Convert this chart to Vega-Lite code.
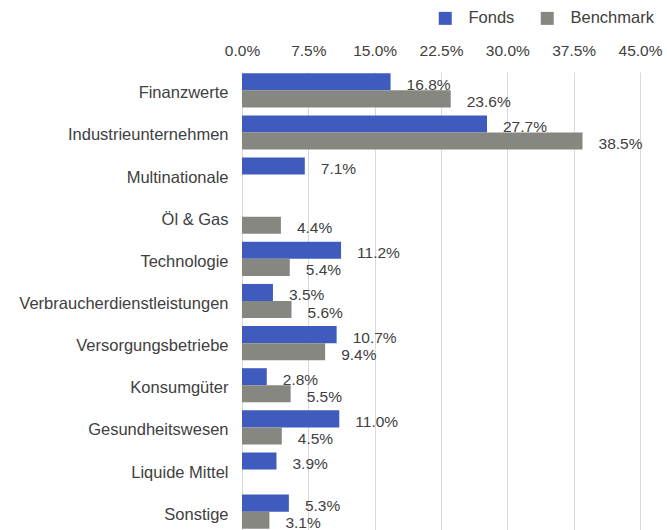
{
  "$schema": "https://vega.github.io/schema/vega-lite/v6.json",
  "autosize": {"type": "none"},
  "width": 398,
  "height": 458,
  "padding": {"left": 242, "top": 72, "right": 27, "bottom": 0},
  "background": "white",
  "config": {
    "view": {"stroke": null},
    "font": "Liberation Sans",
    "text": {"font": "Liberation Sans"}
  },
  "data": {
    "values": [
      {"Sektor": "Finanzwerte", "Serie": "Fonds", "Wert": 0.168},
      {"Sektor": "Finanzwerte", "Serie": "Benchmark", "Wert": 0.236},
      {"Sektor": "Industrieunternehmen", "Serie": "Fonds", "Wert": 0.277},
      {"Sektor": "Industrieunternehmen", "Serie": "Benchmark", "Wert": 0.385},
      {"Sektor": "Multinationale", "Serie": "Fonds", "Wert": 0.071},
      {"Sektor": "Öl & Gas", "Serie": "Benchmark", "Wert": 0.044},
      {"Sektor": "Technologie", "Serie": "Fonds", "Wert": 0.112},
      {"Sektor": "Technologie", "Serie": "Benchmark", "Wert": 0.054},
      {"Sektor": "Verbraucherdienstleistungen", "Serie": "Fonds", "Wert": 0.035},
      {"Sektor": "Verbraucherdienstleistungen", "Serie": "Benchmark", "Wert": 0.056},
      {"Sektor": "Versorgungsbetriebe", "Serie": "Fonds", "Wert": 0.107},
      {"Sektor": "Versorgungsbetriebe", "Serie": "Benchmark", "Wert": 0.094},
      {"Sektor": "Konsumgüter", "Serie": "Fonds", "Wert": 0.028},
      {"Sektor": "Konsumgüter", "Serie": "Benchmark", "Wert": 0.055},
      {"Sektor": "Gesundheitswesen", "Serie": "Fonds", "Wert": 0.110},
      {"Sektor": "Gesundheitswesen", "Serie": "Benchmark", "Wert": 0.045},
      {"Sektor": "Liquide Mittel", "Serie": "Fonds", "Wert": 0.039},
      {"Sektor": "Sonstige", "Serie": "Fonds", "Wert": 0.053},
      {"Sektor": "Sonstige", "Serie": "Benchmark", "Wert": 0.031}
    ]
  },
  "encoding": {
    "y": {
      "field": "Sektor",
      "type": "nominal",
      "sort": ["Finanzwerte", "Industrieunternehmen", "Multinationale", "Öl & Gas", "Technologie", "Verbraucherdienstleistungen", "Versorgungsbetriebe", "Konsumgüter", "Gesundheitswesen", "Liquide Mittel", "Sonstige"],
      "scale": {"paddingInner": 0.19, "paddingOuter": 0.03},
      "axis": {
        "title": null,
        "domain": false,
        "ticks": false,
        "labelPadding": 14,
        "labelFontSize": 16.5,
        "labelColor": "#404040",
        "labelFont": "Liberation Sans",
        "labelLimit": 400,
        "labelOffset": 3
      }
    },
    "yOffset": {
      "field": "Serie",
      "type": "nominal",
      "sort": ["Fonds", "Benchmark"],
      "scale": {"paddingInner": 0, "paddingOuter": 0}
    },
    "x": {
      "field": "Wert",
      "type": "quantitative",
      "scale": {"domain": [0, 0.45], "nice": false},
      "axis": {
        "orient": "top",
        "title": null,
        "format": ".1%",
        "values": [0, 0.075, 0.15, 0.225, 0.3, 0.375, 0.45],
        "domain": false,
        "ticks": false,
        "grid": true,
        "gridColor": "#d9d9d9",
        "gridWidth": 1,
        "labelPadding": 14,
        "labelFontSize": 15.5,
        "labelColor": "#404040",
        "labelFont": "Liberation Sans",
        "labelFlush": false,
        "labelOverlap": false
      }
    }
  },
  "layer": [
    {
      "mark": {"type": "bar"},
      "encoding": {
        "color": {
          "field": "Serie",
          "type": "nominal",
          "sort": ["Fonds", "Benchmark"],
          "scale": {"domain": ["Fonds", "Benchmark"], "range": ["#3F5BBE", "#878782"]},
          "legend": {
            "title": null,
            "orient": "none",
            "direction": "horizontal",
            "legendX": 195,
            "legendY": -62,
            "symbolType": "square",
            "symbolSize": 169,
            "symbolStrokeWidth": 0,
            "labelFontSize": 16.5,
            "labelColor": "#404040",
            "labelFont": "Liberation Sans",
            "labelOffset": 15,
            "columnPadding": 24
          }
        }
      }
    },
    {
      "mark": {"type": "text", "align": "left", "baseline": "middle", "dx": 16, "dy": 3, "fontSize": 15.5, "color": "#404040", "font": "Liberation Sans"},
      "encoding": {
        "text": {"field": "Wert", "type": "quantitative", "format": ".1%"}
      }
    }
  ]
}
